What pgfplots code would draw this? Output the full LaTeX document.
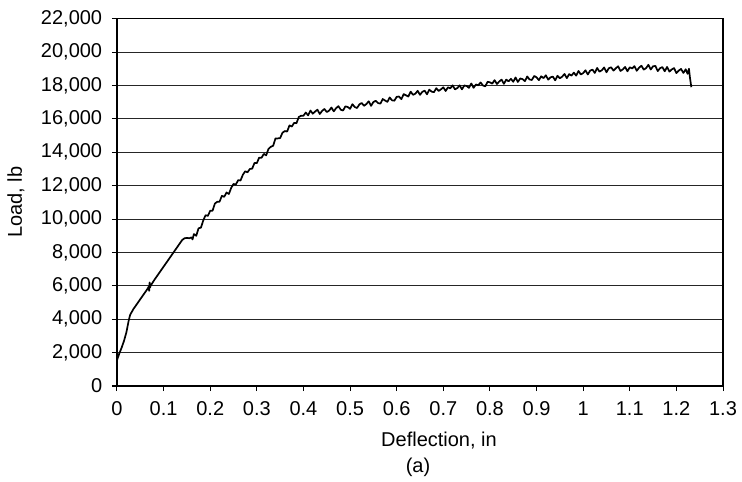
\documentclass[border=0pt]{standalone}
\usepackage{pgfplots}
\pgfplotsset{compat=1.18}
\usepackage{fontspec}
\setmainfont{Liberation Sans}
\begin{document}
\fontsize{20}{24}\selectfont
\begin{tikzpicture}
\begin{axis}[
  name=ax,
  scale only axis,
  width=606pt, height=367.3pt,
  xmin=0, xmax=1.3, ymin=0, ymax=22000,
  xtick={0,0.1,0.2,0.3,0.4,0.5,0.6,0.7,0.8,0.9,1,1.1,1.2,1.3},
  ytick={0,2000,4000,6000,8000,10000,12000,14000,16000,18000,20000,22000},
  scaled ticks=false,
  /pgf/number format/assume math mode=true,
  yticklabel style={/pgf/number format/.cd, 1000 sep={,}},
  xticklabel style={/pgf/number format/.cd, fixed, precision=1},
  tick align=outside,
  major tick length=5pt,
  tick style={black, line width=1pt},
  xtick pos=bottom, ytick pos=left,
  ymajorgrids,
  major grid style={black!85, line width=0.8pt},
  axis line style={black, line width=1.3pt},
  xticklabel shift=4pt,
  yticklabel shift=3pt,
]
\addplot[black, line width=1.7pt, line join=round] coordinates {
(0,1550)(0.005,1950)(0.010,2300)(0.015,2700)(0.020,3200)(0.025,3900)(0.028,4250)
(0.035,4600)(0.045,5000)(0.055,5400)(0.065,5800)(0.068,5950)(0.069,5700)(0.070,6200)
(0.071,5900)(0.072,6000)(0.08,6350)(0.09,6750)(0.10,7150)(0.11,7550)(0.12,7950)
(0.13,8350)(0.14,8750)(0.145,8850)(0.15,8870)(0.155,8850)(0.16,8900)(0.162,8780)
(0.165,9100)(0.17,9000)
(0.175,9450)(0.180,9480)(0.185,9910)(0.190,10230)(0.195,10190)(0.200,10500)
(0.205,10500)(0.210,10930)(0.215,11030)(0.220,11040)(0.225,11390)(0.230,11330)
(0.235,11590)(0.240,11500)(0.245,11870)(0.250,12100)(0.255,12070)(0.260,12330)
(0.265,12310)(0.270,12650)(0.275,12860)(0.280,12800)(0.285,13000)(0.290,13020)
(0.295,13360)(0.300,13350)(0.305,13680)(0.310,13670)(0.315,13900)(0.320,13820)
(0.325,14200)(0.330,14330)(0.335,14390)(0.340,14830)(0.345,14830)(0.350,14850)
(0.355,15170)(0.360,15270)(0.365,15240)(0.370,15610)(0.375,15540)(0.380,15760)
(0.385,15740)(0.390,16110)(0.395,16190)(0.400,16190)
(0.405,16380)(0.410,16210)(0.415,16500)(0.420,16310)(0.425,16440)(0.430,16550)
(0.435,16290)(0.440,16480)(0.445,16590)(0.450,16410)(0.455,16490)(0.460,16680)
(0.465,16450)(0.470,16640)(0.475,16760)(0.480,16550)(0.485,16500)(0.490,16750)
(0.495,16710)(0.500,16600)(0.505,16880)(0.510,16710)(0.515,16650)(0.520,16870)
(0.525,16950)(0.530,16780)(0.535,16890)(0.540,17050)(0.545,16780)(0.550,17010)
(0.555,17080)(0.560,16950)(0.565,16910)(0.570,17190)(0.575,17100)(0.580,17020)
(0.585,17280)(0.590,17110)(0.595,17090)(0.600,17320)
(0.605,17340)(0.610,17180)(0.615,17480)(0.620,17410)(0.625,17340)(0.630,17630)
(0.635,17440)(0.640,17510)(0.645,17680)(0.650,17440)(0.655,17620)(0.660,17690)
(0.665,17470)(0.670,17750)(0.675,17630)(0.680,17600)(0.685,17840)(0.690,17670)
(0.695,17770)(0.700,17890)(0.705,17670)(0.710,17890)(0.715,17830)(0.720,18010)
(0.725,17770)(0.730,17840)(0.735,18010)(0.740,17770)(0.745,18000)(0.750,17970)
(0.755,17860)(0.760,18120)(0.765,17860)(0.770,18060)(0.775,18010)(0.780,18180)
(0.785,18000)(0.790,17950)(0.795,18220)(0.800,18190)
(0.805,18110)(0.810,18320)(0.815,18090)(0.820,18240)(0.825,18350)(0.830,18100)
(0.835,18350)(0.840,18250)(0.845,18400)(0.850,18220)(0.855,18480)(0.860,18210)
(0.865,18420)(0.870,18380)(0.875,18260)(0.880,18540)(0.885,18360)(0.890,18330)
(0.895,18570)(0.900,18490)(0.905,18320)(0.910,18550)(0.915,18440)(0.920,18610)
(0.925,18350)(0.930,18490)(0.935,18530)(0.940,18310)(0.945,18580)(0.950,18430)
(0.955,18530)(0.960,18690)(0.965,18440)(0.970,18680)(0.975,18590)(0.980,18770)
(0.985,18590)(0.990,18870)(0.995,18660)(1.000,18740)
(1.005,18910)(1.010,18660)(1.015,18890)(1.020,18950)(1.025,18750)(1.030,19050)
(1.035,18830)(1.040,18910)(1.045,19080)(1.050,18790)(1.055,19030)(1.060,19090)
(1.065,18890)(1.070,19030)(1.075,19150)(1.080,18870)(1.085,18960)(1.090,19110)
(1.095,18850)(1.100,19090)(1.105,19020)(1.110,19160)(1.115,18880)(1.120,19070)
(1.125,19180)(1.130,18950)(1.135,19040)(1.140,19240)(1.145,18960)(1.150,19150)
(1.155,19170)(1.160,18860)(1.165,19040)(1.170,19100)(1.175,18850)(1.180,19110)
(1.185,18830)(1.190,18960)(1.195,19040)(1.200,18740)(1.205,18890)(1.210,18990)
(1.215,18750)(1.220,18970)(1.224,18700)(1.227,19000)(1.229,18500)(1.232,17900)
};
\end{axis}
\node[rotate=90] at ([xshift=-101pt]ax.west) {Load, lb};
\node at ([xshift=19pt, yshift=-55pt]ax.south) {Deflection, in};
\node at ([xshift=-2pt, yshift=-81pt]ax.south) {(a)};
\pgfresetboundingbox
\path (ax.south west) ++(-117pt,-96pt) rectangle ++(742pt,482pt);
\end{tikzpicture}
\end{document}
